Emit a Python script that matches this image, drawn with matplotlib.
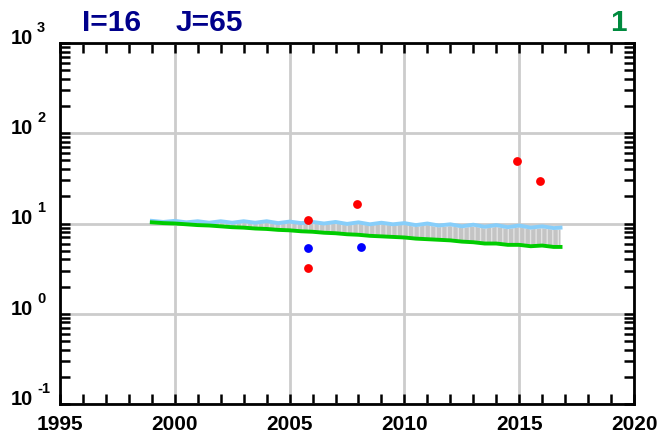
import matplotlib
matplotlib.use("Agg")
import matplotlib.pyplot as plt
import matplotlib.transforms as mtransforms
from matplotlib.ticker import LogLocator, MultipleLocator, FixedLocator, NullFormatter

plt.rcParams['font.family'] = ['Liberation Sans', 'DejaVu Sans']
plt.rcParams['font.weight'] = 'bold'

# ---- data ----
line_years = [1999.0, 1999.5, 2000.0, 2000.5, 2001.0, 2001.5, 2002.0, 2002.5, 2003.0, 2003.5,
              2004.0, 2004.5, 2005.0, 2005.5, 2006.0, 2006.5, 2007.0, 2007.5, 2008.0, 2008.5,
              2009.0, 2009.5, 2010.0, 2010.5, 2011.0, 2011.5, 2012.0, 2012.5, 2013.0, 2013.5,
              2014.0, 2014.5, 2015.0, 2015.5, 2016.0, 2016.5, 2016.8]
upper_line = [10.7, 10.4, 10.7, 10.3, 10.6, 10.2, 10.6, 10.2, 10.6, 10.2,
              10.6, 10.1, 10.5, 10.1, 10.4, 10.0, 10.4, 9.9, 10.3, 9.8,
              10.2, 9.8, 10.1, 9.6, 10.0, 9.5, 9.8, 9.3, 9.7, 9.2,
              9.6, 9.1, 9.5, 9.0, 9.3, 8.9, 9.0]
lower_line = [10.3, 10.1, 10.0, 9.8, 9.6, 9.5, 9.3, 9.1, 9.0, 8.8,
              8.7, 8.5, 8.4, 8.2, 8.1, 7.9, 7.8, 7.6, 7.5, 7.3,
              7.2, 7.1, 7.0, 6.8, 6.7, 6.6, 6.5, 6.3, 6.2, 6.0,
              6.0, 5.8, 5.8, 5.6, 5.7, 5.5, 5.5]

red_x = [2005.8, 2005.8, 2007.95, 2014.9, 2015.9]
red_y = [10.9, 3.2, 16.5, 49.5, 29.7]
blue_x = [2005.8, 2008.1]
blue_y = [5.4, 5.5]

xticks = [1995, 2000, 2005, 2010, 2015, 2020]
yticks = [0.1, 1, 10, 100, 1000]
ytick_exponents = ['-1', '0', '1', '2', '3']

# ---- figure ----
fig = plt.figure(figsize=(6.66, 4.39), dpi=100)
ax = fig.add_axes([60/666, 1-405/439, 574/666, 361/439])

ax.set_yscale('log')
ax.set_xlim(1995, 2020)
ax.set_ylim(0.1, 1000)

ax.fill_between(line_years, lower_line, [u*0.955 for u in upper_line],
                facecolor='#c4c4c4', edgecolor='#e2e2e2', hatch='|||', linewidth=0, zorder=2)
ax.plot(line_years, upper_line, color='#87cefa', lw=2.8, zorder=3)
ax.plot(line_years, lower_line, color='#00cc00', lw=2.8, zorder=3)

ax.scatter(red_x, red_y, s=40, color='#ff0000', zorder=5, linewidths=0)
ax.scatter(blue_x, blue_y, s=40, color='#0000ff', zorder=5, linewidths=0)

ax.xaxis.set_major_locator(FixedLocator(xticks))
ax.xaxis.set_minor_locator(MultipleLocator(1))
ax.yaxis.set_major_locator(FixedLocator(yticks))
ax.yaxis.set_major_formatter(NullFormatter())
ax.yaxis.set_minor_locator(LogLocator(base=10, subs=range(2, 10)))
ax.yaxis.set_minor_formatter(NullFormatter())

ax.grid(True, which='major', color='#cccccc', lw=2, zorder=0)
ax.set_axisbelow(True)

ax.tick_params(which='both', direction='in', top=True, right=True, length=7.5, width=1.8,
               color='black')
ax.tick_params(axis='x', which='major', labelsize=15, pad=7)
for lab in ax.get_xticklabels():
    lab.set_fontweight('bold')

# y tick labels: "10" with raised exponent
ytr = ax.get_yaxis_transform()
base_off = mtransforms.ScaledTranslation(-27/100, 0, fig.dpi_scale_trans)
exp_off = mtransforms.ScaledTranslation(-23/100, 12/100, fig.dpi_scale_trans)
for v, e in zip(yticks, ytick_exponents):
    ax.text(0, v, '10', transform=ytr + base_off, ha='right', va='baseline',
            fontsize=14.5, fontweight='bold', clip_on=False)
    ax.text(0, v, e, transform=ytr + exp_off, ha='left', va='baseline',
            fontsize=10.5, fontweight='bold', clip_on=False)

for sp in ax.spines.values():
    sp.set_linewidth(2)

fig.text(82/666, 1-31/439, 'I=16', color='#00008b', fontsize=21.5, fontweight='bold',
         ha='left', va='baseline')
fig.text(176/666, 1-31/439, 'J=65', color='#00008b', fontsize=21.5, fontweight='bold',
         ha='left', va='baseline')
fig.text(627/666, 1-31/439, '1', color='#008a3e', fontsize=21.5, fontweight='bold',
         ha='right', va='baseline')

fig.savefig('out.png', dpi=100)
